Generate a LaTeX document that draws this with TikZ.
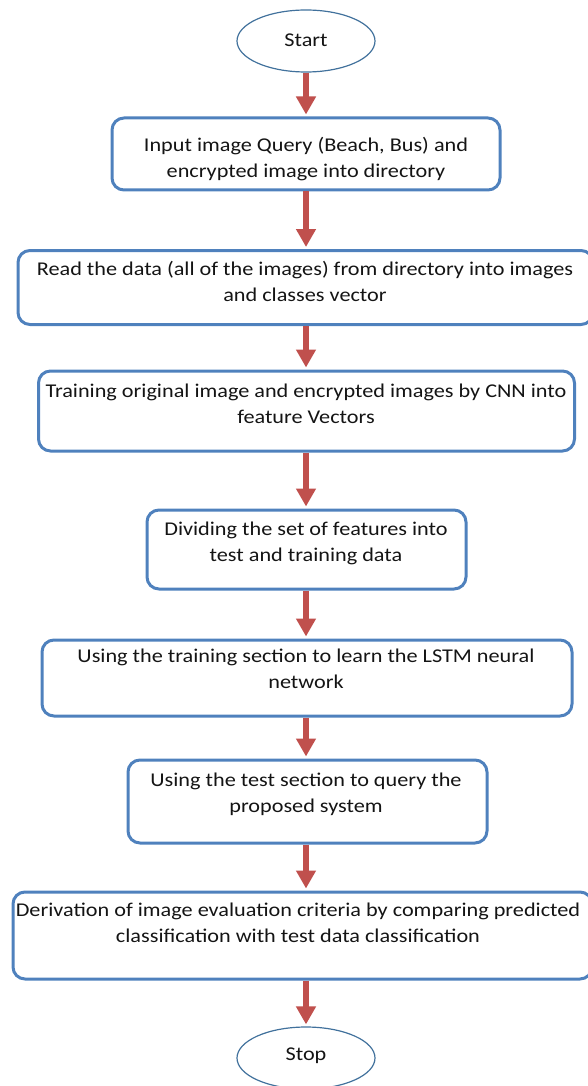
\documentclass[tikz,border=0pt]{standalone}
\usepackage{fontspec}
\setmainfont[FakeStretch=1.14]{Carlito}
\usetikzlibrary{arrows.meta,shapes.geometric}
\definecolor{boxblue}{RGB}{79,129,189}
\definecolor{ellblue}{RGB}{65,113,156}
\definecolor{arrred}{RGB}{192,80,77}
\definecolor{txt}{RGB}{20,20,20}
\tikzset{
  stepbox/.style={draw=boxblue, line width=3pt, rounded corners=12pt, inner sep=0pt},
  term/.style={draw=ellblue, line width=1.2pt, ellipse, inner sep=0pt, minimum width=138pt, minimum height=62pt},
  lbl/.style={align=center, text=txt, inner sep=0pt, anchor=north, font=\fontsize{19.5}{26}\selectfont},
  flow/.style={draw=arrred, line width=6pt, -{Triangle[width=19pt,length=18pt]}, shorten >=2pt}
}
\begin{document}
\begin{tikzpicture}[x=1pt,y=-1pt]
\useasboundingbox (0,0) rectangle (587,1086);
\node[term] (start) at (306,41) {};
\node[lbl, anchor=center] (tstart) at (306,40) {Start};
\node[stepbox, minimum width=388pt, minimum height=72pt] (b1) at (306,154) {};
\node[lbl] (t1) at (306,137) {Input image Query (Beach, Bus) and\\encrypted image into directory};
\node[stepbox, minimum width=575pt, minimum height=74pt] (b2) at (305.5,287.5) {};
\node[lbl] (t2) at (305,261) {Read the data (all of the images) from directory into images\\and classes vector};
\node[stepbox, minimum width=536pt, minimum height=80pt] (b3) at (306.5,411) {};
\node[lbl] (t3) at (306,384) {Training original image and encrypted images by CNN into\\feature Vectors};
\node[stepbox, minimum width=319pt, minimum height=79pt] (b4) at (306.5,549.5) {};
\node[lbl] (t4) at (306,522) {Dividing the set of features into\\test and training data};
\node[stepbox, minimum width=530pt, minimum height=76pt] (b5) at (307,678) {};
\node[lbl] (t5) at (306,649) {Using the training section to learn the LSTM neural\\network};
\node[stepbox, minimum width=359pt, minimum height=83pt] (b6) at (307.5,801.5) {};
\node[lbl] (t6) at (306,773) {Using the test section to query the\\proposed system};
\node[stepbox, minimum width=579pt, minimum height=87pt] (b7) at (302.5,935.5) {};
\node[lbl] (t7) at (298,903) {Derivation of image evaluation criteria by comparing predicted\\classification with test data classification};
\node[term] (stop) at (306,1058) {};
\node[lbl, anchor=center] (tstop) at (306,1056) {Stop};
\draw[flow] (start.south) -- (start.south |- b1.north);
\draw[flow] (start.south |- b1.south) -- (start.south |- b2.north);
\draw[flow] (start.south |- b2.south) -- (start.south |- b3.north);
\draw[flow] (start.south |- b3.south) -- (start.south |- b4.north);
\draw[flow] (start.south |- b4.south) -- (start.south |- b5.north);
\draw[flow] (start.south |- b5.south) -- (start.south |- b6.north);
\draw[flow] (start.south |- b6.south) -- (start.south |- b7.north);
\draw[flow] (stop.north |- b7.south) -- (stop.north);
\end{tikzpicture}
\end{document}
